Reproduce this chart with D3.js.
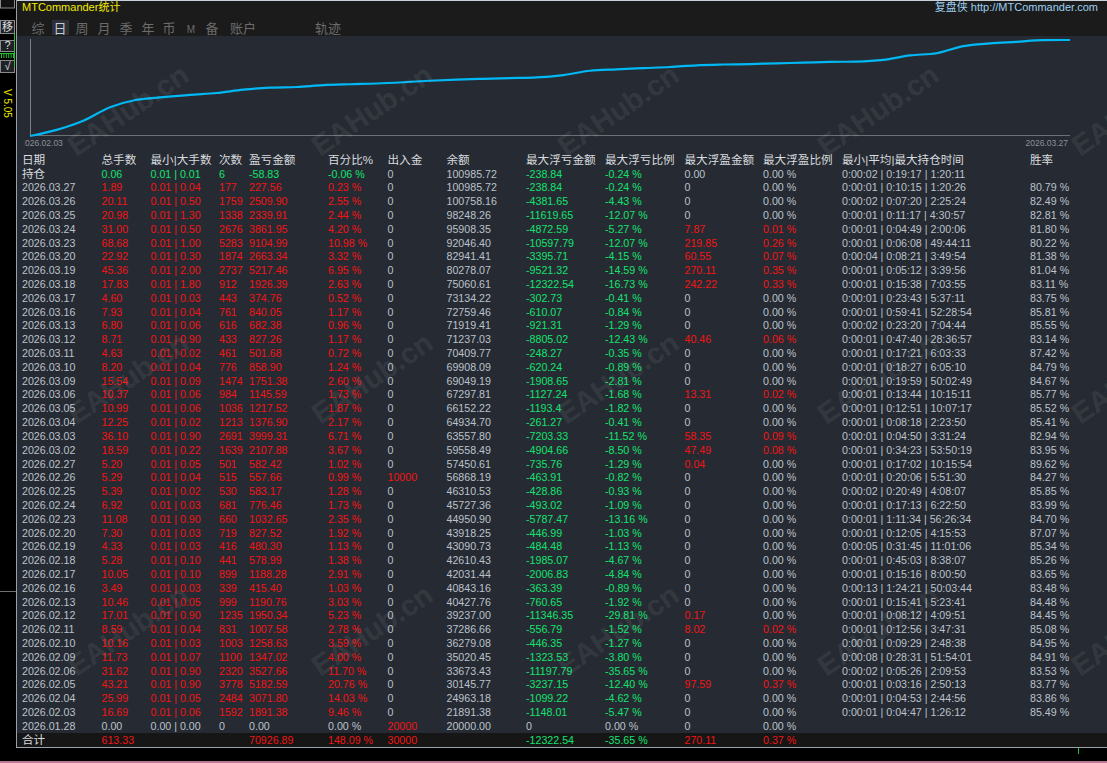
<!DOCTYPE html>
<html>
<head>
<meta charset="utf-8">
<script src="https://cdn.jsdelivr.net/npm/d3@7"></script>
<style>
  html, body { margin: 0; padding: 0; background: #000; overflow: hidden; }
  svg { display: block; }
  text { font-family: "Liberation Sans", Arial, "Noto Sans CJK SC", sans-serif; }
</style>
</head>
<body>
<svg id="stats" width="1107" height="763"></svg>
<script>
// ---- daily rows, newest first (last row is the initial deposit day) ----
const dates = ['2026.03.27','2026.03.26','2026.03.25','2026.03.24','2026.03.23','2026.03.20','2026.03.19','2026.03.18','2026.03.17','2026.03.16',
  '2026.03.13','2026.03.12','2026.03.11','2026.03.10','2026.03.09','2026.03.06','2026.03.05','2026.03.04','2026.03.03','2026.03.02',
  '2026.02.27','2026.02.26','2026.02.25','2026.02.24','2026.02.23','2026.02.20','2026.02.19','2026.02.18','2026.02.17','2026.02.16',
  '2026.02.13','2026.02.12','2026.02.11','2026.02.10','2026.02.09','2026.02.06','2026.02.05','2026.02.04','2026.02.03','2026.01.28'];
const lots = [1.89, 20.11, 20.98, 31.00, 68.68, 22.92, 45.36, 17.83, 4.60, 7.93,
  6.80, 8.71, 4.63, 8.20, 15.54, 10.37, 10.99, 12.25, 36.10, 18.59,
  5.20, 5.29, 5.39, 6.92, 11.08, 7.30, 4.33, 5.28, 10.05, 3.49,
  10.46, 17.01, 8.59, 10.16, 11.73, 31.62, 43.21, 25.99, 16.69, 0.00];
const minLots = [0.01,0.01,0.01,0.01,0.01,0.01,0.01,0.01,0.01,0.01,
  0.01,0.01,0.01,0.01,0.01,0.01,0.01,0.01,0.01,0.01,
  0.01,0.01,0.01,0.01,0.01,0.01,0.01,0.01,0.01,0.01,
  0.01,0.01,0.01,0.01,0.01,0.01,0.01,0.01,0.01,0.00];
const maxLots = [0.04, 0.50, 1.30, 0.50, 1.00, 0.30, 2.00, 1.80, 0.03, 0.04,
  0.06, 0.90, 0.02, 0.04, 0.09, 0.06, 0.06, 0.02, 0.90, 0.22,
  0.05, 0.04, 0.02, 0.03, 0.90, 0.03, 0.03, 0.10, 0.10, 0.03,
  0.05, 0.90, 0.04, 0.03, 0.07, 0.90, 0.90, 0.05, 0.06, 0.00];
const trades = [177, 1759, 1338, 2676, 5283, 1874, 2737, 912, 443, 761,
  616, 433, 461, 776, 1474, 984, 1036, 1213, 2691, 1639,
  501, 515, 530, 681, 660, 719, 416, 441, 899, 339,
  999, 1235, 831, 1003, 1100, 2320, 3778, 2484, 1592, 0];
const profits = [227.56, 2509.90, 2339.91, 3861.95, 9104.99, 2663.34, 5217.46, 1926.39, 374.76, 840.05,
  682.38, 827.26, 501.68, 858.90, 1751.38, 1145.59, 1217.52, 1376.90, 3999.31, 2107.88,
  582.42, 557.66, 583.17, 776.46, 1032.65, 827.52, 480.30, 578.99, 1188.28, 415.40,
  1190.76, 1950.34, 1007.58, 1258.63, 1347.02, 3527.66, 5182.59, 3071.80, 1891.38, 0.00];
const pcts = [0.23, 2.55, 2.44, 4.20, 10.98, 3.32, 6.95, 2.63, 0.52, 1.17,
  0.96, 1.17, 0.72, 1.24, 2.60, 1.73, 1.87, 2.17, 6.71, 3.67,
  1.02, 0.99, 1.28, 1.73, 2.35, 1.92, 1.13, 1.38, 2.91, 1.03,
  3.03, 5.23, 2.78, 3.59, 4.00, 11.70, 20.76, 14.03, 9.46, 0.00];
const flows = [0,0,0,0,0,0,0,0,0,0, 0,0,0,0,0,0,0,0,0,0,
  0,10000,0,0,0,0,0,0,0,0, 0,0,0,0,0,0,0,0,0,20000];
const balances = [100985.72, 100758.16, 98248.26, 95908.35, 92046.40, 82941.41, 80278.07, 75060.61, 73134.22, 72759.46,
  71919.41, 71237.03, 70409.77, 69908.09, 69049.19, 67297.81, 66152.22, 64934.70, 63557.80, 59558.49,
  57450.61, 56868.19, 46310.53, 45727.36, 44950.90, 43918.25, 43090.73, 42610.43, 42031.44, 40843.16,
  40427.76, 39237.00, 37286.66, 36279.08, 35020.45, 33673.43, 30145.77, 24963.18, 21891.38, 20000.00];
const maxLoss = [-238.84, -4381.65, -11619.65, -4872.59, -10597.79, -3395.71, -9521.32, -12322.54, -302.73, -610.07,
  -921.31, -8805.02, -248.27, -620.24, -1908.65, -1127.24, -1193.4, -261.27, -7203.33, -4904.66,
  -735.76, -463.91, -428.86, -493.02, -5787.47, -446.99, -484.48, -1985.07, -2006.83, -363.39,
  -760.65, -11346.35, -556.79, -446.35, -1323.53, -11197.79, -3237.15, -1099.22, -1148.01, 0];
const maxLossPct = [-0.24, -4.43, -12.07, -5.27, -12.07, -4.15, -14.59, -16.73, -0.41, -0.84,
  -1.29, -12.43, -0.35, -0.89, -2.81, -1.68, -1.82, -0.41, -11.52, -8.50,
  -1.29, -0.82, -0.93, -1.09, -13.16, -1.03, -1.13, -4.67, -4.84, -0.89,
  -1.92, -29.81, -1.52, -1.27, -3.80, -35.65, -12.40, -4.62, -5.47, 0.00];
const maxGain = [0, 0, 0, 7.87, 219.85, 60.55, 270.11, 242.22, 0, 0,
  0, 40.46, 0, 0, 0, 13.31, 0, 0, 58.35, 47.49,
  0.04, 0, 0, 0, 0, 0, 0, 0, 0, 0,
  0, 0.17, 8.02, 0, 0, 0, 97.59, 0, 0, 0];
const maxGainPct = [0.00, 0.00, 0.00, 0.01, 0.26, 0.07, 0.35, 0.33, 0.00, 0.00,
  0.00, 0.06, 0.00, 0.00, 0.00, 0.02, 0.00, 0.00, 0.09, 0.08,
  0.00, 0.00, 0.00, 0.00, 0.00, 0.00, 0.00, 0.00, 0.00, 0.00,
  0.00, 0.00, 0.02, 0.00, 0.00, 0.00, 0.37, 0.00, 0.00, 0.00];
const holdTimes = ['0:00:01 | 0:10:15 | 1:20:26','0:00:02 | 0:07:20 | 2:25:24','0:00:01 | 0:11:17 | 4:30:57','0:00:01 | 0:04:49 | 2:00:06',
  '0:00:01 | 0:06:08 | 49:44:11','0:00:04 | 0:08:21 | 3:49:54','0:00:01 | 0:05:12 | 3:39:56','0:00:01 | 0:15:38 | 7:03:55',
  '0:00:01 | 0:23:43 | 5:37:11','0:00:01 | 0:59:41 | 52:28:54','0:00:02 | 0:23:20 | 7:04:44','0:00:01 | 0:47:40 | 28:36:57',
  '0:00:01 | 0:17:21 | 6:03:33','0:00:01 | 0:18:27 | 6:05:10','0:00:01 | 0:19:59 | 50:02:49','0:00:01 | 0:13:44 | 10:15:11',
  '0:00:01 | 0:12:51 | 10:07:17','0:00:01 | 0:08:18 | 2:23:50','0:00:01 | 0:04:50 | 3:31:24','0:00:01 | 0:34:23 | 53:50:19',
  '0:00:01 | 0:17:02 | 10:15:54','0:00:01 | 0:20:06 | 5:51:30','0:00:02 | 0:20:49 | 4:08:07','0:00:01 | 0:17:13 | 6:22:50',
  '0:00:01 | 1:11:34 | 56:26:34','0:00:01 | 0:12:05 | 4:15:53','0:00:05 | 0:31:45 | 11:01:06','0:00:01 | 0:45:03 | 8:38:07',
  '0:00:01 | 0:15:16 | 8:00:50','0:00:13 | 1:24:21 | 50:03:44','0:00:01 | 0:15:41 | 5:23:41','0:00:01 | 0:08:12 | 4:09:51',
  '0:00:01 | 0:12:56 | 3:47:31','0:00:01 | 0:09:29 | 2:48:38','0:00:08 | 0:28:31 | 51:54:01','0:00:02 | 0:05:26 | 2:09:53',
  '0:00:01 | 0:03:16 | 2:50:13','0:00:01 | 0:04:53 | 2:44:56','0:00:01 | 0:04:47 | 1:26:12',''];
const winRates = [80.79, 82.49, 82.81, 81.80, 80.22, 81.38, 81.04, 83.11, 83.75, 85.81,
  85.55, 83.14, 87.42, 84.79, 84.67, 85.77, 85.52, 85.41, 82.94, 83.95,
  89.62, 84.27, 85.85, 83.99, 84.70, 87.07, 85.34, 85.26, 83.65, 83.48,
  84.48, 84.45, 85.08, 84.95, 84.91, 83.53, 83.77, 83.86, 85.49, null];

const headers = ['日期','总手数','最小|大手数','次数','盈亏金额','百分比%','出入金','余额',
  '最大浮亏金额','最大浮亏比例','最大浮盈金额','最大浮盈比例','最小|平均|最大持仓时间','胜率'];
const openRow = ['持仓','0.06','0.01 | 0.01','6','-58.83','-0.06 %','0','100985.72',
  '-238.84','-0.24 %','0.00','0.00 %','0:00:02 | 0:19:17 | 1:20:11',''];
const totalRow = ['合计','613.33','','','70926.89','148.09 %','30000','',
  '-12322.54','-35.65 %','270.11','0.37 %','',''];
const tabs = ['综','日','周','月','季','年','币','M','备','账户','轨迹'];
const selectedTab = '日';
const chartStart = '2026.02.03', chartEnd = '2026.03.27';

// ---- layout ----
const W = 1107, H = 763;
const RED = '#f21414', GREEN = '#14e26e', GRAY = '#bcc2cb', WHITE = '#d8dbdf';
const colX = [22, 101.5, 150.5, 219, 249, 328, 387.5, 446.5, 526, 605, 684.5, 763, 842, 1030];
const tabX = [38, 60, 82, 104, 126, 148, 169, 191, 212, 243, 328];

const svg = d3.select('#stats');

// backgrounds
svg.append('rect').attr('width', W).attr('height', H).attr('fill', '#000');
svg.append('rect').attr('x', 17).attr('y', 0).attr('width', W - 17).attr('height', 36).attr('fill', '#1b1b1b');
svg.append('rect').attr('x', 17).attr('y', 36).attr('width', W - 17).attr('height', 697).attr('fill', '#262b33');
svg.append('rect').attr('x', 17).attr('y', 733).attr('width', W - 17).attr('height', 14).attr('fill', '#161616');

svg.append('line').attr('x1', 16).attr('x2', W).attr('y1', 0.5).attr('y2', 0.5).attr('stroke', '#c9d0d8');
svg.append('line').attr('x1', 16.5).attr('x2', 16.5).attr('y1', 0).attr('y2', 748).attr('stroke', '#9aa0a8');
svg.append('line').attr('x1', 16).attr('x2', W).attr('y1', 747.5).attr('y2', 747.5).attr('stroke', '#9aa2aa');
svg.append('rect').attr('x', 0).attr('y', 761).attr('width', W).attr('height', 2).attr('fill', '#b87898');
svg.append('line').attr('x1', 1078.5).attr('x2', 1078.5).attr('y1', 748).attr('y2', 754).attr('stroke', '#18c040');

// left tool strip
const strip = svg.append('g');
strip.append('rect').attr('x', 0.5).attr('y', -1).attr('width', 14).attr('height', 9)
  .attr('fill', '#111').attr('stroke', '#8a8a8a');
[['移', 20.5, 13], ['?', 40.5, 11], ['√', 60.5, 12]].forEach(([t, y0, h]) => {
  strip.append('rect').attr('x', 0.5).attr('y', y0).attr('width', 14).attr('height', h)
    .attr('fill', '#1e2226').attr('stroke', '#8a8a8a');
  strip.append('text').attr('x', 7.5).attr('y', y0 + h - 2.5).attr('text-anchor', 'middle')
    .attr('font-size', 11).attr('fill', '#e0e0e0').text(t);
});
strip.append('line').attr('x1', 14.5).attr('x2', 14.5).attr('y1', 33).attr('y2', 67).attr('stroke', '#20c030');
d3.range(6).forEach(k => {
  strip.append('line').attr('x1', 1.5 + k * 2.4).attr('x2', 1.5 + k * 2.4).attr('y1', 53).attr('y2', 58)
    .attr('stroke', '#20c030');
});
strip.append('line').attr('x1', 0).attr('x2', 14).attr('y1', 53.5).attr('y2', 53.5).attr('stroke', '#20c030');
strip.append('text').attr('transform', 'translate(4,89) rotate(90)')
  .attr('font-size', 10).attr('fill', '#ece400').text('V 5.05');
strip.append('line').attr('x1', 0).attr('x2', 16).attr('y1', 591.5).attr('y2', 591.5).attr('stroke', '#707070');

// title bar
svg.append('text').attr('x', 22).attr('y', 10.5).attr('font-size', 11).attr('fill', '#f2ea00')
  .text('MTCommander统计');
svg.append('text').attr('x', 1098).attr('y', 10.5).attr('text-anchor', 'end').attr('font-size', 11)
  .attr('fill', '#9ccff0').text('复盘侠 http://MTCommander.com');

const tabG = svg.append('g');
tabG.selectAll('rect').data(tabs.filter(t => t === selectedTab)).join('rect')
  .attr('x', d => tabX[tabs.indexOf(d)] - 8).attr('y', 20).attr('width', 17).attr('height', 15)
  .attr('fill', '#2b3039');
tabG.selectAll('text').data(tabs).join('text')
  .attr('x', (d, i) => tabX[i]).attr('y', 33).attr('text-anchor', 'middle')
  .attr('font-size', d => d === 'M' ? 10 : 13)
  .attr('fill', d => d === selectedTab ? '#c6cacf' : '#6c6c6c')
  .text(d => d);

// equity curve: cumulative daily percentage, oldest trading day first
const dayIdx = d3.range(dates.length).filter(i => trades[i] > 0).reverse();
const curve = [0, ...d3.cumsum(dayIdx.map(i => pcts[i]))];
const cx = d3.scaleLinear().domain([0, curve.length - 1]).range([30, 1070]);
const cy = d3.scaleLinear().domain([0, d3.max(curve)]).range([136, 40]);

svg.append('line').attr('x1', 30.5).attr('x2', 30.5).attr('y1', 39).attr('y2', 136).attr('stroke', '#7c7f84');
svg.append('line').attr('x1', 30).attr('x2', 1070).attr('y1', 135.5).attr('y2', 135.5).attr('stroke', '#6c6f74').attr('stroke-width', 1.2);

svg.append('path')
  .datum(curve)
  .attr('fill', 'none')
  .attr('stroke', '#00b8f4')
  .attr('stroke-width', 2.2)
  .attr('d', d3.line().x((d, i) => cx(i)).y(d => cy(d)).curve(d3.curveMonotoneX));

svg.append('clipPath').attr('id', 'labelClip')
  .append('rect').attr('x', 24.6).attr('y', 136).attr('width', 100).attr('height', 14);
svg.append('text').attr('x', 20.3).attr('y', 146).attr('font-size', 8.5).attr('fill', '#8c9096')
  .attr('clip-path', 'url(#labelClip)').text(chartStart);
svg.append('text').attr('x', 1068).attr('y', 146).attr('text-anchor', 'end').attr('font-size', 8.5)
  .attr('fill', '#8c9096').text(chartEnd);

// ---- table ----
const col = d3.scaleOrdinal().domain(d3.range(headers.length)).range(colX);
const rowY = d3.scaleLinear().domain([0, 42]).range([163.7, 163.7 + 42 * 13.81]);

const pctTxt = v => v.toFixed(2) + ' %';
const headCells = headers.map(t => ({ t, c: WHITE, cjk: true }));
const openColors = [WHITE, GREEN, GREEN, GREEN, GREEN, GREEN, GRAY, GRAY, GREEN, GREEN, GRAY, GRAY, GRAY, GRAY];
const openCells = openRow.map((t, j) => ({ t, c: openColors[j], cjk: j === 0 }));
const dayCells = dates.map((d, i) => {
  const base = trades[i] > 0 ? RED : GRAY;
  return [
    { t: d, c: GRAY },
    { t: lots[i].toFixed(2), c: base },
    { t: minLots[i].toFixed(2) + ' | ' + maxLots[i].toFixed(2), c: base },
    { t: String(trades[i]), c: base },
    { t: profits[i].toFixed(2), c: base },
    { t: pctTxt(pcts[i]), c: base },
    { t: String(flows[i]), c: flows[i] ? RED : GRAY },
    { t: balances[i].toFixed(2), c: GRAY },
    { t: String(maxLoss[i]), c: maxLoss[i] < 0 ? GREEN : GRAY },
    { t: pctTxt(maxLossPct[i]), c: maxLossPct[i] < 0 ? GREEN : GRAY },
    { t: String(maxGain[i]), c: maxGain[i] > 0 ? RED : GRAY },
    { t: pctTxt(maxGainPct[i]), c: maxGainPct[i] > 0 ? RED : GRAY },
    { t: holdTimes[i], c: GRAY },
    { t: winRates[i] == null ? '' : pctTxt(winRates[i]), c: GRAY }
  ];
});
const totalColors = [WHITE, RED, RED, RED, RED, RED, RED, GRAY, GREEN, GREEN, RED, RED, GRAY, GRAY];
const totalCells = totalRow.map((t, j) => ({ t, c: totalColors[j], cjk: j === 0 }));

const tableRows = [headCells, openCells, ...dayCells, totalCells];

svg.append('g')
  .selectAll('g.row')
  .data(tableRows)
  .join('g')
  .attr('class', 'row')
  .attr('transform', (r, i) => `translate(0,${rowY(i)})`)
  .selectAll('text')
  .data(r => r.map((cell, j) => Object.assign({ j }, cell)).filter(d => d.t !== ''))
  .join('text')
  .attr('x', d => col(d.j))
  .attr('font-size', d => d.cjk ? 11.6 : 10.67)
  .attr('fill', d => d.c)
  .text(d => d.t);

// ---- watermark ----
const markX = [128, 372, 618, 878, 1132];
const markY = [110, 378, 630];
svg.append('g')
  .attr('pointer-events', 'none')
  .selectAll('text')
  .data(d3.cross(markY, markX))
  .join('text')
  .attr('transform', d => `translate(${d[1]},${d[0]}) rotate(-34)`)
  .attr('text-anchor', 'middle')
  .attr('dominant-baseline', 'central')
  .attr('font-size', 29)
  .attr('font-weight', 'bold')
  .attr('fill', '#ffffff')
  .attr('fill-opacity', 0.085)
  .text('EAHub.cn');
</script>
</body>
</html>
